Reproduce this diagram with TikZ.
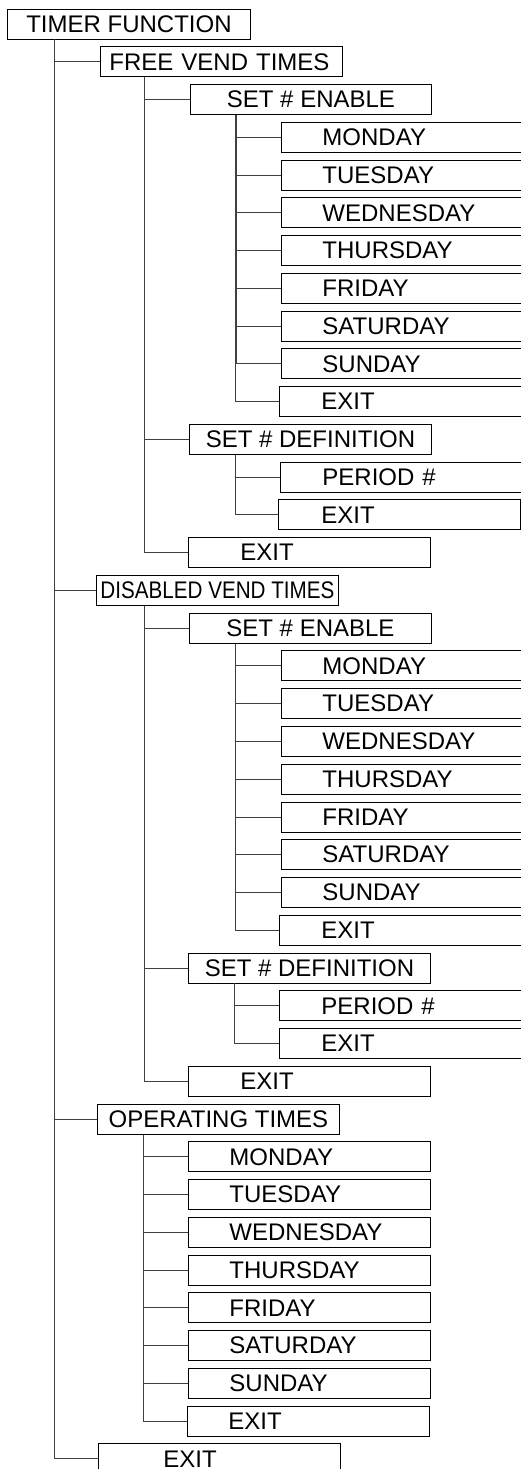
\documentclass[tikz,border=0pt]{standalone}
\usepackage{fontspec}
\setmainfont{Liberation Sans}
\newfontfamily\narrowfont[FakeStretch=0.86]{Liberation Sans}
\usetikzlibrary{positioning}

\begin{document}
\begin{tikzpicture}[x=1pt, y=-1pt,
    box/.style={draw, anchor=west, minimum height=30pt, inner ysep=0pt, line width=0.9pt,
        font=\fontsize{24}{26}\selectfont},
    mid/.style={box, minimum width=242pt, inner xsep=0pt, align=center},
    pad/.style={box, inner xsep=#1, text width=242pt-2*#1, align=left},
    pad/.default=41pt,
    link/.style={draw=black!75, line width=0.9pt},
]
    \def\rowh{37.76}
    \def\days{MONDAY,TUESDAY,WEDNESDAY,THURSDAY,FRIDAY,SATURDAY,SUNDAY}
    \useasboundingbox (0,0) rectangle (521,1469);
    % Top level and its branches
    \node[mid, minimum width=243pt] (tf) at (7,24) {TIMER FUNCTION};
    \node[pad=9pt] (fv) at (100,{24+\rowh*1}) {FREE VEND TIMES};
    \node[mid, font=\narrowfont\fontsize{24}{26}\selectfont] (dv) at (96,{24+\rowh*15}) {DISABLED VEND TIMES};
    \node[mid] (ot) at (97,{24+\rowh*29}) {OPERATING TIMES};
    \node[pad=65pt] (ex) at (98,{24+\rowh*38}) {EXIT};
    % Free vend times
    \node[mid, minimum width=241pt] (fe) at (190,{24+\rowh*2}) {SET \# ENABLE};
    \node[pad=42pt] (fex) at (279,{24+\rowh*10}) {EXIT};
    \node[mid] (fd) at (189,{24+\rowh*11}) {SET \# DEFINITION};
    \node[pad=42pt] (fp) at (280,{24+\rowh*12}) {PERIOD \#};
    \node[pad=43pt] (fdx) at (278,{24+\rowh*13}) {EXIT};
    \node[pad=52pt] (fx) at (188,{24+\rowh*14}) {EXIT};
    % Disabled vend times
    \node[mid] (de) at (189,{24+\rowh*16}) {SET \# ENABLE};
    \node[pad=42pt] (dex) at (279,{24+\rowh*24}) {EXIT};
    \node[mid] (dd) at (188,{24+\rowh*25}) {SET \# DEFINITION};
    \node[pad=42pt] (dp) at (279,{24+\rowh*26}) {PERIOD \#};
    \node[pad=42pt] (ddx) at (279,{24+\rowh*27}) {EXIT};
    \node[pad=52pt] (dx) at (188,{24+\rowh*28}) {EXIT};
    % Operating times
    \node[pad] (otx) at (187,{24+\rowh*37}) {EXIT};
    % Day rows under the three parents
    \foreach \p/\x/\r in {fe/281/3, de/281/17, ot/188/30} {
        \foreach \d [count=\i from 0] in \days {
            \node[pad] (\p\i) at (\x,{24+\rowh*(\r+\i)}) {\d};
            \draw[link] ([xshift=46pt]\p.south west) |- (\p\i.west);
        }
    }
    % Connectors
    \foreach \c in {fv,dv,ot,ex} \draw[link] ([xshift=47pt]tf.south west) |- (\c.west);
    \foreach \c in {fe,fd,fx} \draw[link] ([xshift=44pt]fv.south west) |- (\c.west);
    \foreach \c in {de,dd,dx} \draw[link] ([xshift=48pt]dv.south west) |- (\c.west);
    \draw[link] ([xshift=46pt]ot.south west) |- (otx.west);
    \draw[link] ([xshift=45pt]fe.south west) |- (fex.west);
    \foreach \c in {fp,fdx} \draw[link] ([xshift=46pt]fd.south west) |- (\c.west);
    \draw[link] ([xshift=46pt]de.south west) |- (dex.west);
    \foreach \c in {dp,ddx} \draw[link] ([xshift=46pt]dd.south west) |- (\c.west);
\end{tikzpicture}
\end{document}
